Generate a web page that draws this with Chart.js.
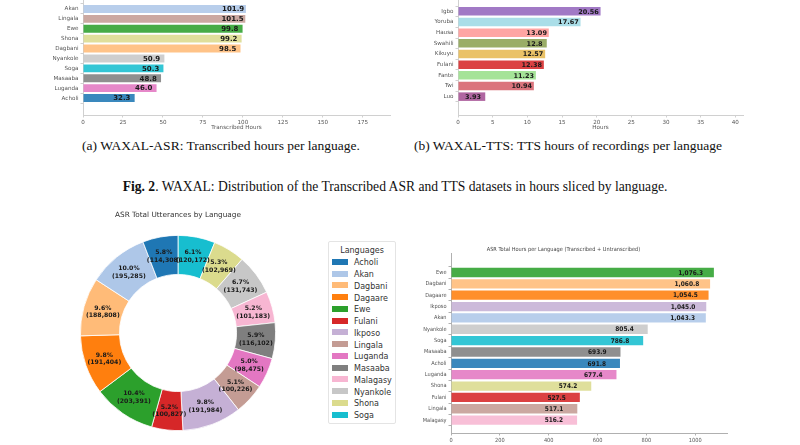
<!DOCTYPE html>
<html>
<head>
<meta charset="utf-8">
<script src="https://cdn.jsdelivr.net/npm/chart.js@4.4.1/dist/chart.umd.min.js"></script>
<style>
  body { margin: 0; width: 800px; height: 445px; overflow: hidden; background: #fff; position: relative; font-family: "DejaVu Sans", sans-serif; }
  .box { position: absolute; }
  .cap { position: absolute; font-family: "Liberation Serif", "Times New Roman", serif; color: #111; white-space: nowrap; transform: translate(-50%, -50%); }
  #legend { position: absolute; left: 328px; top: 241px; width: 68px; height: 183px; border: 1px solid #e4e4e4; border-radius: 2px; box-sizing: border-box; font-size: 8px; color: #333; padding-top: 4px; }
  #legend .ttl { text-align: center; line-height: 10px; margin-bottom: 1.4px; }
  #legend .row { line-height: 11.75px; height: 11.75px; white-space: nowrap; }
  #legend .sw { display: inline-block; width: 16px; height: 6px; margin: 0 6px 0 3px; vertical-align: middle; position: relative; top: -1px; }
</style>
</head>
<body>

<div class="box" style="left:0;top:-8px;width:400px;height:143px"><canvas id="asr-chart"></canvas></div>
<div class="box" style="left:400px;top:-7px;width:400px;height:142px"><canvas id="tts-chart"></canvas></div>

<div class="cap" style="left:221px;top:146px;font-size:13.5px">(a) WAXAL-ASR: Transcribed hours per language.</div>
<div class="cap" style="left:568px;top:146px;font-size:13.5px">(b) WAXAL-TTS: TTS hours of recordings per language</div>
<div class="cap" style="left:395px;top:187px;font-size:13.6px"><b>Fig. 2</b>. WAXAL: Distribution of the Transcribed ASR and TTS datasets in hours sliced by language.</div>

<div class="box" style="left:78px;top:205px;width:200px;height:228px"><canvas id="utt-chart"></canvas></div>
<div id="legend"></div>
<div class="box" style="left:400px;top:242px;width:400px;height:213px"><canvas id="total-chart"></canvas></div>

<script>
// (a) Giờ đã phiên âm ASR
const asrLangs = ["Akan", "Lingala", "Ewe", "Shona", "Dagbani", "Nyankole", "Soga", "Masaaba", "Luganda", "Acholi"];
const asrHours = [101.9, 101.5, 99.8, 99.2, 98.5, 50.9, 50.3, 48.8, 46.0, 32.3];
const asrTicks = [0, 25, 50, 75, 100, 125, 150, 175];

// (b) Giờ ghi âm TTS
const ttsLangs = ["Igbo", "Yoruba", "Hausa", "Swahili", "Kikuyu", "Fulani", "Fante", "Twi", "Luo"];
const ttsHours = [20.56, 17.67, 13.09, 12.8, 12.57, 12.38, 11.23, 10.94, 3.93];
const ttsTicks = [0, 5, 10, 15, 20, 25, 30, 35, 40];

// Tổng số câu ASR theo ngôn ngữ
const uttLangs = ["Acholi", "Akan", "Dagbani", "Dagaare", "Ewe", "Fulani", "Ikposo", "Lingala", "Luganda", "Masaaba", "Malagasy", "Nyankole", "Shona", "Soga"];
const uttCounts = [114308, 195285, 188808, 191404, 203391, 100827, 191984, 100226, 98475, 116102, 101183, 131743, 102969, 120172];

// Tổng giờ ASR (có + không phiên âm)
const totalLangs = ["Ewe", "Dagbani", "Dagaare", "Ikposo", "Akan", "Nyankole", "Soga", "Masaaba", "Acholi", "Luganda", "Shona", "Fulani", "Lingala", "Malagasy"];
const totalHours = [1076.3, 1060.8, 1054.5, 1045.0, 1043.3, 805.4, 786.8, 693.9, 691.8, 677.4, 574.2, 527.5, 517.1, 516.2];
const totalTicks = [0, 200, 400, 600, 800, 1000];

// màu cho từng ngôn ngữ
const langColor = {
    Acholi: "#1f77b4", Akan: "#aec7e8", Dagbani: "#ffbb78", Dagaare: "#ff7f0e", Ewe: "#2ca02c",
    Fulani: "#d62728", Ikposo: "#c5b0d5", Lingala: "#c49c94", Luganda: "#e377c2", Masaaba: "#7f7f7f",
    Malagasy: "#f7b6d2", Nyankole: "#c7c7c7", Shona: "#dbdb8d", Soga: "#17becf"
};
const ttsColors = ["#9467bd", "#9edae5", "#ff9896", "#8ca252", "#e7ba52", "#d62728", "#98df8a", "#d6616b", "#a55194"];

function alpha(hex, a) {
    const n = parseInt(hex.slice(1), 16);
    return `rgba(${n >> 16}, ${(n >> 8) & 255}, ${n & 255}, ${a})`;
}

// nhãn giá trị trong thanh
const barLabels = {
    id: "barLabels",
    afterDatasetsDraw(chart, args, opts) {
        const ctx = chart.ctx;
        const xs = chart.scales.x;
        const data = chart.data.datasets[0].data;
        ctx.save();
        ctx.font = `bold ${opts.size}px ${opts.family}`;
        ctx.fillStyle = "#1a1a1a";
        ctx.textAlign = "center";
        ctx.textBaseline = "middle";
        chart.getDatasetMeta(0).data.forEach((bar, i) => {
            const v = data[i].x;
            let txt = String(v);
            if (opts.fmt === "fixed1") txt = v.toFixed(1);
            if (opts.fmt === "comma1") txt = v.toLocaleString("en-US", { minimumFractionDigits: 1, maximumFractionDigits: 1 });
            ctx.fillText(txt, xs.getPixelForValue(v - opts.shift), bar.y + 0.5);
        });
        ctx.restore();
    }
};

// nhãn phần trăm trong biểu đồ vòng
const donutLabels = {
    id: "donutLabels",
    afterDatasetsDraw(chart) {
        const ctx = chart.ctx;
        const ds = chart.data.datasets[0];
        const total = ds.data.reduce((a, b) => a + b, 0);
        ctx.save();
        ctx.font = 'bold 6.2px "DejaVu Sans"';
        ctx.fillStyle = "#1a1a1a";
        ctx.textAlign = "center";
        ctx.textBaseline = "middle";
        chart.getDatasetMeta(0).data.forEach((arc, i) => {
            const p = arc.tooltipPosition();
            const v = ds.data[i];
            ctx.fillText((v / total * 100).toFixed(1) + "%", p.x, p.y - 3.6);
            ctx.fillText("(" + v.toLocaleString("en-US") + ")", p.x, p.y + 3.8);
        });
        ctx.restore();
    }
};

function hbar(id, langs, values, colors, o) {
    const font = { size: o.tickSize, family: o.family };
    return new Chart(document.getElementById(id), {
        type: "bar",
        data: {
            datasets: [{
                data: values.map((v, i) => ({ x: v, y: i })),
                backgroundColor: colors,
                categoryPercentage: o.bar,
                barPercentage: 1,
            }]
        },
        options: {
            indexAxis: "y",
            animation: false,
            responsive: true,
            maintainAspectRatio: false,
            devicePixelRatio: 1,
            layout: { padding: o.pad },
            plugins: {
                legend: { display: false },
                tooltip: { enabled: false },
                title: o.title || { display: false },
                barLabels: { size: o.valSize, family: o.family, fmt: o.fmt, shift: o.shift },
            },
            scales: {
                x: {
                    type: "linear", min: 0, max: o.max,
                    afterBuildTicks: s => { s.ticks = o.ticks.map(v => ({ value: v })); },
                    afterFit: s => { s.height = o.xh; s.paddingLeft = 0; s.paddingRight = 0; },
                    grid: { drawOnChartArea: false, tickLength: 2.5, color: o.spine },
                    border: { color: o.spine },
                    ticks: { font: font, color: "#555", padding: 1.5, callback: v => String(v) },
                    title: o.xTitle ? { display: true, text: o.xTitle, font: font, color: "#555", padding: { top: 0, bottom: 4 } } : { display: false },
                },
                y: {
                    type: "linear", reverse: true, min: o.ymin, max: o.ymax,
                    afterBuildTicks: s => { s.ticks = langs.map((_, i) => ({ value: i })); },
                    afterFit: s => { s.width = o.yw; s.paddingTop = 0; s.paddingBottom = 0; },
                    grid: { drawOnChartArea: false, tickLength: 2.5, color: o.spine },
                    border: { color: o.spine },
                    ticks: { font: font, color: "#555", padding: 2, autoSkip: false, callback: v => langs[v] },
                }
            }
        },
        plugins: [barLabels]
    });
}

hbar("asr-chart", asrLangs, asrHours, asrLangs.map(l => alpha(langColor[l], 0.88)), {
    max: 192, ticks: asrTicks, ymin: -1.09, ymax: 10.09, bar: 0.8,
    yw: 83, xh: 20, pad: { right: 10 }, spine: "#d0d0d0",
    tickSize: 5.6, valSize: 7, family: '"DejaVu Sans"', fmt: "fixed1", shift: 8,
    xTitle: "Transcribed Hours"
});

hbar("tts-chart", ttsLangs, ttsHours, ttsColors.map(c => alpha(c, 0.88)), {
    max: 41.1, ticks: ttsTicks, ymin: -1.085, ymax: 9.085, bar: 0.8,
    yw: 58, xh: 20, pad: { right: 57 }, spine: "#d0d0d0",
    tickSize: 5.6, valSize: 6.5, family: '"DejaVu Sans"', fmt: "raw", shift: 1.75,
    xTitle: "Hours"
});

hbar("total-chart", totalLangs, totalHours, totalLangs.map(l => alpha(langColor[l], 0.88)), {
    max: 1130, ticks: totalTicks, ymin: -1.14, ymax: 13.57, bar: 0.82,
    yw: 51, xh: 22, pad: { right: 73 }, spine: "#b0b0b0",
    tickSize: 5.6, valSize: 6.5, family: '"DejaVu Sans Condensed", "DejaVu Sans"', fmt: "comma1", shift: 95,
    title: {
        display: true, text: "ASR Total Hours per Language (Transcribed + Untranscribed)",
        color: "#444", font: { size: 5.6, family: '"DejaVu Sans Condensed", "DejaVu Sans"', weight: "normal" },
        padding: { top: 3.7, bottom: 0.7 }
    }
});

// Biểu đồ vòng: vẽ ngược chiều kim đồng hồ như matplotlib
new Chart(document.getElementById("utt-chart"), {
    type: "doughnut",
    data: {
        labels: uttLangs.slice().reverse(),
        datasets: [{
            data: uttCounts.slice().reverse(),
            backgroundColor: uttLangs.map(l => langColor[l]).reverse(),
            borderColor: "#fff",
            borderWidth: 0.8,
        }]
    },
    options: {
        cutout: "60%",
        animation: false,
        responsive: true,
        maintainAspectRatio: false,
        devicePixelRatio: 1,
        layout: { padding: { left: 2, right: 2, bottom: 2, top: 0 } },
        plugins: {
            legend: { display: false },
            tooltip: { enabled: false },
            title: {
                display: true, text: "ASR Total Utterances by Language", color: "#333",
                font: { size: 7.3, family: '"DejaVu Sans"', weight: "normal" },
                padding: { top: 5.6, bottom: 15.6 }
            }
        }
    },
    plugins: [donutLabels]
});

// Chú thích ngôn ngữ
const legend = document.getElementById("legend");
legend.innerHTML = '<div class="ttl">Languages</div>' + uttLangs.map(l =>
    `<div class="row"><span class="sw" style="background:${langColor[l]}"></span>${l}</div>`
).join("");
</script>
</body>
</html>
